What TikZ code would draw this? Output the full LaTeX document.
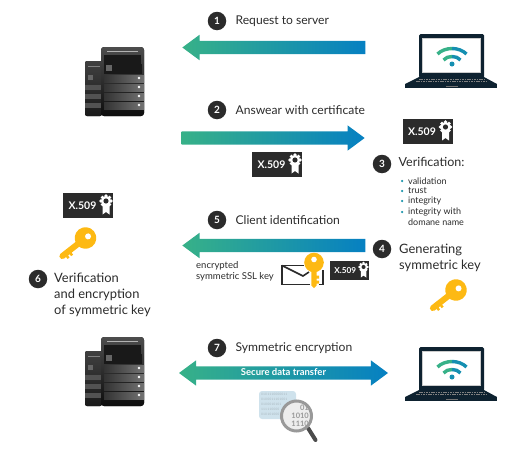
\documentclass[tikz,border=0pt]{standalone}
\usepackage{fontspec}
\setmainfont{Lato}
\usetikzlibrary{positioning,shapes.arrows}
\definecolor{inkdark}{HTML}{2B2B2B}
\definecolor{arrowgreen}{HTML}{37B188}
\definecolor{arrowblue}{HTML}{0680C2}
\definecolor{keygold}{HTML}{FDB913}
\definecolor{laptopink}{HTML}{0E2230}
\definecolor{paperblue}{HTML}{CFE2EC}
\tikzset{
  stepdot/.style={circle, fill=inkdark, text=white, minimum size=18.5pt, inner sep=0pt, font=\fontsize{10}{10}\selectfont\bfseries},
  steptext/.style={text=inkdark, inner sep=0pt, font=\fontsize{12.1}{16}\selectfont},
  bigtext/.style={text=inkdark, inner sep=0pt, align=left, font=\fontsize{12.9}{16}\selectfont},
  listtext/.style={text=inkdark, inner sep=0pt, anchor=west, font=\fontsize{9}{10}\selectfont},
  listdot/.style={circle, fill=arrowgreen!40!arrowblue, minimum size=2.5pt, inner sep=0pt},
  bluearrow/.style={single arrow, single arrow head extend=6pt, single arrow tip angle=73, single arrow head indent=0pt,
    minimum width=25pt, inner ysep=6.5pt, inner xsep=0pt, text height=0pt, text depth=0pt, draw=none,
    left color=arrowgreen, right color=arrowblue},
  pics/keyicon/.style={code={
    \fill[keygold] (-2.6,5) -- (2.6,5) -- (2.6,13) -- (5.2,13) -- (5.2,16) -- (2.6,16) -- (2.6,18) -- (5.2,18) -- (5.2,21) -- (2.6,21)
      -- (2.6,23) -- (0,25.5) -- (-2.6,23) -- cycle;
    \fill[keygold] (0,0) circle (9.8pt);
    \fill[white] (0,-3) circle (2.8pt);
  }},
  pics/longkey/.style={code={
    \fill[keygold] (-3,5) -- (3,5) -- (3,20) -- (5.5,20) -- (5.5,22.5) -- (3,22.5) -- (3,24.5) -- (5.5,24.5) -- (5.5,27) -- (3,27)
      -- (3,29.5) -- (1.5,32) -- (-1.5,32) -- (-3,29.5) -- cycle;
    \fill[keygold] (0,0) circle (10.8pt);
    \fill[white] (0.3,-3) circle (3pt);
  }},
  pics/certicon/.style={code={
    \fill[inkdark] (-25,-12.5) rectangle (25,12.5);
    \node (label) [transform shape, text=white, inner sep=0pt, font=\fontsize{10.5}{11}\selectfont\bfseries] at (-5.5,0) {X.509};
    \fill[white] (14.5,-1.5) -- (14.5,9) -- (18,6.5) -- (21.5,9) -- (21.5,-1.5) -- cycle;
    \foreach \a in {0,45,...,315}
      \fill[white] (18,-4.5) ++(\a:5pt) circle (1.8pt);
    \fill[white] (18,-4.5) circle (5pt);
    \fill[inkdark] (18,-4.5) circle (2.6pt);
  }},
  pics/servericon/.style={code={
    % back tower
    \fill[rounded corners=2pt, top color=black!75, bottom color=black!90] (-16,14) rectangle (1,69);
    \fill[black!50] (-13,18.5) rectangle (-1,19.5);
    \fill[black!60] (-13,28) rectangle (-8,33);
    \fill[black!68] (-16,38) rectangle (1,43);
    \fill[black!68] (-16,47) rectangle (1,52);
    \fill[black!68] (-16,56) rectangle (1,61);
    % front tower
    \fill[rounded corners=3pt, top color=black!70, bottom color=black!95] (0,0) rectangle (43,69);
    \fill[black!30] (6,4) rectangle (37,5.2);
    \fill[black!90] (3,8) rectangle (40,17);
    \fill[black!90] (3,17) rectangle (41,27);
    \fill[black!60] (5,18) rectangle (11,24);
    \fill[left color=black!80, right color=black!55] (3,28) rectangle (43,35);
    \fill[left color=black!80, right color=black!55] (3,37) rectangle (43,44);
    \fill[left color=black!80, right color=black!55] (3,46) rectangle (43,53);
    \fill[left color=black!80, right color=black!55] (3,55) rectangle (43,62);
    \fill[white] (38,31) circle (1.3pt);
    \fill[white] (38,40) circle (1.3pt);
    \fill[white] (38,49) circle (1.3pt);
    \fill[white] (38,58) circle (1.3pt);
  }},
  pics/laptopicon/.style={code={
    \fill[laptopink, rounded corners=1.5pt] (0,0) rectangle (65,44);
    \fill[white, draw=black!20] (3.5,4) rectangle (61.5,38.5);
    \fill[laptopink] (0,43) -- (65,43) -- (78,50) -- (-14,50) -- cycle;
    \fill[laptopink] (-14,50) rectangle (78,54);
    \draw[black!50, line width=0.8pt, dash pattern=on 1.6pt off 0.8pt] (0,45.5) -- (65,45.5);
    \draw[black!50, line width=0.8pt, dash pattern=on 1.6pt off 0.8pt] (-3,47.8) -- (68,47.8);
    \draw[black!55, line width=0.8pt] (27,52) -- (39,52);
    \fill[arrowblue!70!arrowgreen] (33,30) circle (2.5pt);
    \draw[arrowgreen, line width=3.4pt] (24.5,26) .. controls (26.5,23.5) and (30,22.5) .. (33.2,22.5);
    \draw[arrowblue!70!arrowgreen, line width=3.4pt] (41.5,26) .. controls (39.5,23.5) and (36,22.5) .. (33,22.5);
    \draw[arrowgreen, line width=3.4pt] (18.5,20) .. controls (22,16.5) and (27.5,14.5) .. (33.2,14.5);
    \draw[arrowblue!70!arrowgreen, line width=3.4pt] (47.5,20) .. controls (44,16.5) and (38.5,14.5) .. (33,14.5);
  }}
}
\begin{document}
\begin{tikzpicture}[x=1pt, y=-1pt]
\useasboundingbox (0,0) rectangle (523,466);
% machines
\pic (serverA) at (101,47) {servericon};
\pic (serverB) at (101,337) {servericon};
\pic (laptopA) at (419,34) {laptopicon};
\pic (laptopB) at (419,347) {laptopicon};
% steps
\node (s1) [stepdot] at (217,21) {1};
\node (t1) [steptext, right=9pt of s1] {Request to server};
\node (s2) [stepdot] at (217,110) {2};
\node (t2) [steptext, right=9pt of s2] {Answear with certificate};
\node (s3) [stepdot] at (382,164) {3};
\node (t3) [bigtext, right=7pt of s3, yshift=2pt, font=\fontsize{12.5}{16}\selectfont] {Verification:};
\node (s4) [stepdot] at (382,249) {4};
\node (t4) [bigtext, anchor=north west] at (399,243.5) {Generating\\symmetric key};
\node (s5) [stepdot] at (217,220) {5};
\node (t5) [steptext, right=9pt of s5] {Client identification};
\node (s6) [stepdot] at (38,279) {6};
\node (t6) [bigtext, anchor=north west] at (54,273) {Verification\\and encryption\\of symmetric key};
\node (s7) [stepdot] at (217,348) {7};
\node (t7) [steptext, right=9pt of s7] {Symmetric encryption};
% block arrows
\node (a1) [bluearrow, shape border rotate=180, minimum height=183pt, anchor=tip] at (182,47.5) {};
\node (a2) [bluearrow, minimum height=183pt, anchor=tip] at (365,138) {};
\node (a5) [bluearrow, shape border rotate=180, minimum height=183pt, anchor=tip] at (182,245.5) {};
\node (a7) [double arrow, double arrow head extend=6pt, double arrow tip angle=73, double arrow head indent=0pt,
  minimum width=25pt, minimum height=209pt, inner ysep=2pt, inner xsep=0pt, text height=7pt, text depth=2pt,
  left color=arrowgreen, right color=arrowblue, text=white, font=\fontsize{9.5}{10}\selectfont\bfseries] at (283.5,373) {Secure data transfer};
% certificates
\pic (certA) at (277,164.5) {certicon};
\pic (certB) at (427.5,131.5) {certicon};
\pic (certC) at (88,205.5) {certicon};
\pic[scale=0.78] (certD) at (349.5,270.5) {certicon};
% keys
\pic[rotate=-52] (keyA) at (85.5,238) {longkey};
\pic[rotate=-52] (keyB) at (456,290) {longkey};
% envelope
\draw[inkdark, line width=1.6pt] (310,284.5) -- (282,284.5) -- (282,265.5) -- (304,265.5);
\draw[inkdark, line width=1.6pt] (282,265.5) -- (303,276) -- (309,272);
\draw[inkdark, line width=1.6pt] (319,284.5) -- (323,284.5) -- (323,270);
\pic (keyC) at (314,262.5) {keyicon};
\node (enc) [text=inkdark, inner sep=0pt, align=left, anchor=north west, font=\fontsize{9.5}{11.5}\selectfont] at (196,261) {encrypted\\symmetric SSL key};
% verification list
\node (d1) [listdot] at (402,181) {};
\node (l1) [listtext] at (408,181) {validation};
\node (d2) [listdot] at (402,191) {};
\node (l2) [listtext] at (408,191) {trust};
\node (d3) [listdot] at (402,201) {};
\node (l3) [listtext] at (408,201) {integrity};
\node (d4) [listdot] at (402,212) {};
\node (l4) [listtext] at (408,212) {integrity with};
\node (l5) [listtext] at (408,222) {domane name};
% magnifier
\fill[paperblue, rounded corners=3pt] (259,391) rectangle (296,419);
\node (bits) [inner sep=0pt, anchor=north west, align=left, text=arrowblue!35!black!35, font=\fontsize{3.8}{5}\ttfamily] at (261,393) {0101110000011\\0100011101001\\0100010101\\111110000\\010101000};
\draw[black!70, line width=4pt, line cap=round] (308,428) -- (315.5,440);
\fill[black!7, draw=black!40, line width=3pt] (296.5,416) circle (15pt);
\node (lens) [inner sep=0pt, align=right, anchor=east, text=black!40, font=\fontsize{7.5}{8}\selectfont\bfseries] at (309,416) {01\\1010\\1110};
\end{tikzpicture}
\end{document}
